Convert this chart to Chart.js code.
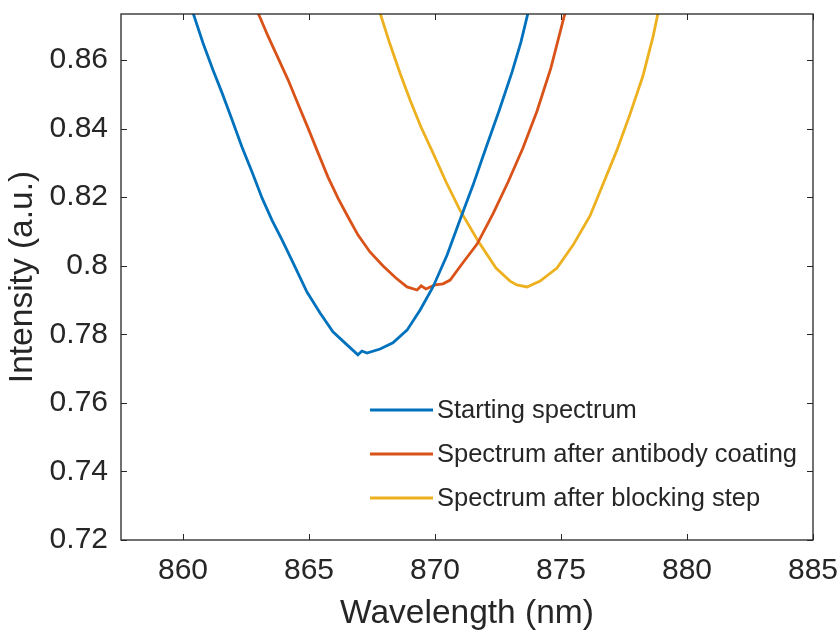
<!DOCTYPE html>
<html>
<head>
<meta charset="utf-8">
<script src="https://cdn.jsdelivr.net/npm/chart.js@4.4.1/dist/chart.umd.min.js"></script>
<style>
  html, body { margin: 0; padding: 0; background: #ffffff; }
  #wrap { width: 840px; height: 634px; }
</style>
</head>
<body>
<div id="wrap"><canvas id="c" width="840" height="634"></canvas></div>
<script>
// Transmission spectra (wavelength in nm, intensity in a.u.)
const seriesLabels = [
  'Starting spectrum',
  'Spectrum after antibody coating',
  'Spectrum after blocking step'
];

const startX = [860.40, 860.79, 861.19, 861.55, 861.95, 862.34, 862.74, 863.14, 863.53, 863.93,
  864.37, 864.92, 865.44, 865.95, 866.51, 866.94, 867.10, 867.30, 867.82, 868.33,
  868.89, 869.41, 869.92, 870.48, 870.99, 871.51, 872.02, 872.54, 873.06, 873.41,
  873.69];
const startY = [0.8737, 0.8650, 0.8571, 0.8504, 0.8425, 0.8346, 0.8273, 0.8197, 0.8133, 0.8075,
  0.8008, 0.7923, 0.7862, 0.7807, 0.7769, 0.7740, 0.7751, 0.7745, 0.7757, 0.7775,
  0.7812, 0.7871, 0.7938, 0.8031, 0.8133, 0.8235, 0.8343, 0.8451, 0.8565, 0.8652,
  0.8737];

const antibodyX = [862.98, 863.37, 863.77, 864.17, 864.56, 864.96, 865.36, 865.75, 866.15, 866.55,
  866.94, 867.42, 867.94, 868.45, 868.89, 869.29, 869.45, 869.64, 870.00, 870.32,
  870.60, 871.07, 871.67, 872.30, 872.90, 873.49, 874.05, 874.60, 875.16];
const antibodyY = [0.8737, 0.8670, 0.8606, 0.8542, 0.8472, 0.8402, 0.8329, 0.8259, 0.8197, 0.8142,
  0.8090, 0.8040, 0.7999, 0.7964, 0.7938, 0.7929, 0.7941, 0.7932, 0.7944, 0.7947,
  0.7958, 0.8005, 0.8063, 0.8151, 0.8244, 0.8343, 0.8451, 0.8577, 0.8737];

const blockingX = [867.82, 868.21, 868.61, 869.01, 869.44, 869.92, 870.44, 870.99, 871.71, 872.42,
  872.98, 873.25, 873.65, 874.17, 874.84, 875.48, 876.15, 876.67, 877.22, 877.74,
  878.25, 878.65, 878.85];
const blockingY = [0.8737, 0.8647, 0.8562, 0.8483, 0.8405, 0.8329, 0.8244, 0.8162, 0.8072, 0.7993,
  0.7955, 0.7944, 0.7938, 0.7955, 0.7993, 0.8060, 0.8145, 0.8238, 0.8337, 0.8442,
  0.8553, 0.8667, 0.8737];

const xTicks = [860, 865, 870, 875, 880, 885];
const yTicks = [0.72, 0.74, 0.76, 0.78, 0.80, 0.82, 0.84, 0.86];
const xRange = [857.54, 885];
const yRange = [0.72, 0.8734];

const colors = ['#0072BD', '#D95319', '#EDB120'];
const ink = '#262626';
const family = '"Liberation Sans", Arial, Helvetica, sans-serif';

function pairs(xs, ys) { return xs.map((x, i) => ({ x: x, y: ys[i] })); }

const seriesData = [pairs(startX, startY), pairs(antibodyX, antibodyY), pairs(blockingX, blockingY)];

// Axes box with inward tick marks on all four sides
const boxPlugin = {
  id: 'boxPlugin',
  afterDatasetsDraw(chart) {
    const { ctx, chartArea: a, scales } = chart;
    ctx.save();
    ctx.strokeStyle = ink;
    ctx.lineWidth = 1.3;
    ctx.strokeRect(a.left, a.top, a.right - a.left, a.bottom - a.top);
    ctx.lineWidth = 1;
    const len = 6;
    ctx.beginPath();
    scales.x.ticks.forEach(t => {
      const px = Math.round(scales.x.getPixelForValue(t.value)) + 0.5;
      ctx.moveTo(px, a.bottom); ctx.lineTo(px, a.bottom - len);
      ctx.moveTo(px, a.top); ctx.lineTo(px, a.top + len);
    });
    scales.y.ticks.forEach(t => {
      const py = Math.round(scales.y.getPixelForValue(t.value)) + 0.5;
      ctx.moveTo(a.left, py); ctx.lineTo(a.left + len, py);
      ctx.moveTo(a.right, py); ctx.lineTo(a.right - len, py);
    });
    ctx.stroke();
    ctx.restore();
  }
};

// Legend drawn inside the plot area, without a frame
const insideLegend = {
  id: 'insideLegend',
  afterDraw(chart, args, opts) {
    const { ctx, chartArea: a } = chart;
    ctx.save();
    ctx.font = opts.fontSize + 'px ' + family;
    ctx.textBaseline = 'middle';
    ctx.textAlign = 'left';
    chart.data.datasets.forEach((ds, i) => {
      const y = a.top + opts.top + i * opts.rowGap;
      const x0 = a.left + opts.left;
      ctx.strokeStyle = ds.borderColor;
      ctx.lineWidth = ds.borderWidth;
      ctx.beginPath();
      ctx.moveTo(x0, y);
      ctx.lineTo(x0 + opts.lineLen, y);
      ctx.stroke();
      ctx.fillStyle = ink;
      ctx.fillText(ds.label, x0 + opts.lineLen + 4, y + 1);
    });
    ctx.restore();
  }
};

new Chart(document.getElementById('c'), {
  type: 'line',
  data: {
    datasets: seriesData.map((d, i) => ({
      label: seriesLabels[i],
      data: d,
      borderColor: colors[i],
      backgroundColor: colors[i],
      borderWidth: 2.8,
      pointRadius: 0,
      fill: false,
      tension: 0,
      clip: 0
    }))
  },
  options: {
    responsive: false,
    animation: false,
    layout: { padding: { top: 14, right: 27, left: 0, bottom: 0 } },
    plugins: {
      legend: { display: false },
      tooltip: { enabled: false },
      insideLegend: { left: 249, top: 396, rowGap: 44, lineLen: 63, fontSize: 25.5 }
    },
    scales: {
      x: {
        type: 'linear',
        min: xRange[0],
        max: xRange[1],
        afterBuildTicks(scale) { scale.ticks = xTicks.map(v => ({ value: v })); },
        afterFit(scale) { scale.height = 94; scale.paddingLeft = 0; scale.paddingRight = 0; },
        grid: { display: false, drawTicks: false },
        border: { display: false },
        ticks: {
          color: ink,
          padding: 13,
          maxRotation: 0,
          autoSkip: false,
          font: { family: family, size: 30 },
          callback: v => String(v)
        },
        title: {
          display: true,
          text: 'Wavelength (nm)',
          color: ink,
          padding: { top: 0, bottom: 0 },
          font: { family: family, size: 33.5 }
        }
      },
      y: {
        type: 'linear',
        min: yRange[0],
        max: yRange[1],
        afterBuildTicks(scale) { scale.ticks = yTicks.map(v => ({ value: v })); },
        afterFit(scale) { scale.width = 121; scale.paddingTop = 0; scale.paddingBottom = 0; },
        grid: { display: false, drawTicks: false },
        border: { display: false },
        ticks: {
          color: ink,
          padding: 13,
          autoSkip: false,
          font: { family: family, size: 30 },
          callback: v => String(Number(v.toFixed(2)))
        },
        title: {
          display: true,
          text: 'Intensity (a.u.)',
          color: ink,
          padding: { top: 3, bottom: 0 },
          font: { family: family, size: 33.5 }
        }
      }
    }
  },
  plugins: [boxPlugin, insideLegend]
});
</script>
</body>
</html>
